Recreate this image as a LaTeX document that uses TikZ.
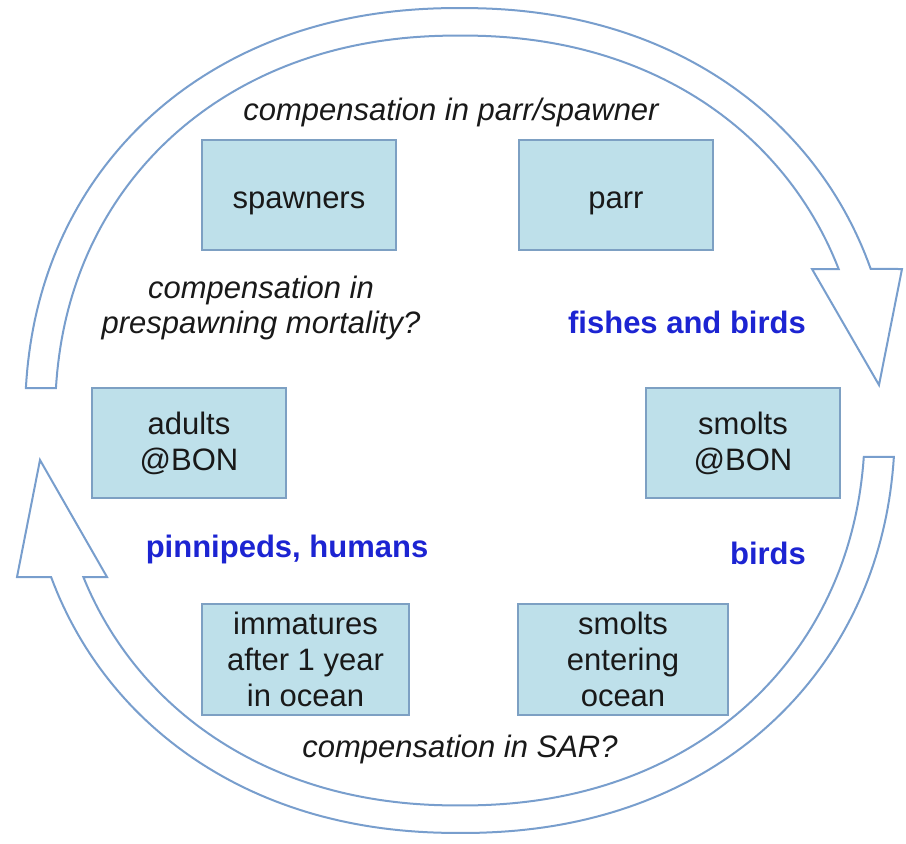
\documentclass[tikz,border=0pt]{standalone}
\usepackage{fontspec}
\setmainfont{Liberation Sans}
\definecolor{boxfill}{RGB}{190,224,234}
\definecolor{boxedge}{RGB}{125,160,195}
\definecolor{ringblue}{RGB}{120,158,205}
\definecolor{threatblue}{RGB}{28,36,210}
\definecolor{inkgray}{RGB}{25,25,25}
\begin{document}
\begin{tikzpicture}[x=1pt,y=-1pt,
  declare function={
    rs(\t)=pow(abs(\t)+0.0001,-0.07);
    ox(\t)=460+435*cos(\t)*rs(cos(\t));
    oy(\t)=420.5-412.5*sin(\t)*rs(sin(\t));
    ix(\t)=460+405*cos(\t)*rs(cos(\t));
    iy(\t)=420.5-385*sin(\t)*rs(sin(\t));
  },
  ring/.style={draw=ringblue, line width=2pt, fill=white, line join=miter},
  stage/.style={draw=boxedge, fill=boxfill, line width=1.5pt,
    minimum width=194pt, minimum height=110pt, align=center,
    font=\fontsize{31}{36}\selectfont, text=inkgray, inner sep=0pt},
  oneline/.style={text height=26pt, text depth=0pt},
  remark/.style={font=\fontsize{31}{35}\selectfont\itshape, align=center, text=inkgray},
  threat/.style={font=\fontsize{31}{36}\selectfont\bfseries, text=threatblue},
]
\useasboundingbox (0,0) rectangle (906,844);

% upper life-cycle arrow: left side, over the top, head pointing down on the right
\draw[ring]
  plot[domain=176.27:19.92, samples=140, variable=\t] ({ox(\t)},{oy(\t)})
  -- (902,269) -- (879,385) -- (812,269)
  -- plot[domain=21.52:175.98, samples=140, variable=\t] ({ix(\t)},{iy(\t)})
  -- cycle;

% lower life-cycle arrow: right side, under the bottom, head pointing up on the left
\draw[ring]
  plot[domain=-4.23:-159.34, samples=140, variable=\t] ({ox(\t)},{oy(\t)})
  -- (17,577) -- (40,460) -- (107,577)
  -- plot[domain=-157.67:-4.55, samples=140, variable=\t] ({ix(\t)},{iy(\t)})
  -- cycle;

% life stages
\node[stage, oneline] (spawners) at (299,195) {spawners};
\node[stage, oneline] (parr) at (616,195) {parr};
\node[stage] (adults) at (189,443) {adults\\@BON};
\node[stage] (smoltsbon) at (743,443) {smolts\\@BON};
\node[stage, minimum width=207pt, minimum height=111pt] (immatures) at (305.5,659.5) {immatures\\after 1 year\\in ocean};
\node[stage, minimum width=210pt, minimum height=111pt] (entering) at (623,659.5) {smolts\\entering\\ocean};

% notes on density dependence
\node[remark] (topnote) at (451,112) {compensation in parr/spawner};
\node[remark] (prenote) at (261,308) {compensation in\\prespawning mortality?};
\node[remark] (sarnote) at (460,749) {compensation in SAR?};

% predators
\node[threat] (fishbird) at (687,322) {fishes and birds};
\node[threat] (pinni) at (287,549) {pinnipeds, humans};
\node[threat] (birdsonly) at (768,553) {birds};
\end{tikzpicture}
\end{document}
